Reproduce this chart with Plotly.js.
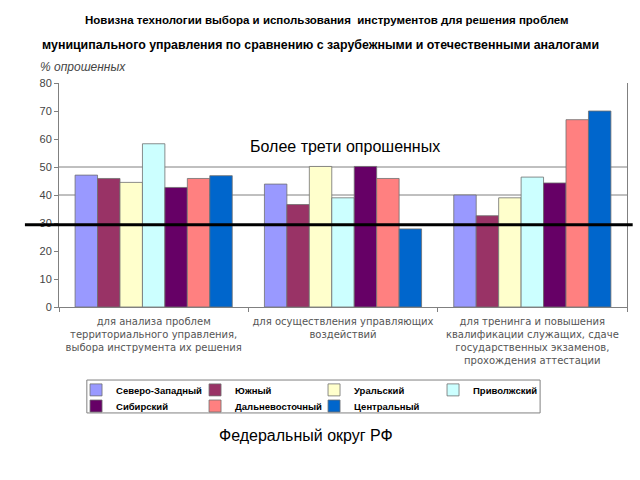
<!DOCTYPE html>
<html><head><meta charset="utf-8">
<script src="https://cdn.plot.ly/plotly-3.0.1.min.js"></script>
<style>body{margin:0;background:#fff}#c{width:640px;height:480px}</style>
</head><body><div id="c"></div>
<script>
const categories = [
  "для анализа проблем<br>территориального управления,<br>выбора инструмента их решения",
  "для осуществления управляющих<br>воздействий",
  "для тренинга и повышения<br>квалификации служащих, сдаче<br>государственных экзаменов,<br>прохождения аттестации"
];
const seriesNames = ["Северо-Западный","Южный","Уральский","Приволжский","Сибирский","Дальневосточный","Центральный"];
const seriesColors = ["#9999FF","#993366","#FFFFCC","#CCFFFF","#660066","#FF8080","#0066CC"];
const szValues = [47.1, 43.9, 40.0];
const yuzhValues = [45.9, 36.6, 32.6];
const uralValues = [44.5, 50.2, 39.0];
const privValues = [58.3, 39.0, 46.4];
const sibValues = [42.7, 50.2, 44.3];
const dvValues = [45.9, 45.9, 66.9];
const centrValues = [46.9, 27.9, 70.0];
const gridValues = [40, 50];
const thresholdValue = 29.4;
const yTicks = [0,10,20,30,40,50,60,70,80];

const allValues = [szValues, yuzhValues, uralValues, privValues, sibValues, dvValues, centrValues];
const traces = allValues.map((v,i)=>({
  type:'bar', x: categories, y: v, name: seriesNames[i],
  legend: i < 4 ? 'legend' : 'legend2',
  marker:{color: seriesColors[i], line:{color:'#707070', width:0.8}}
}));

const shapes = gridValues.map(g=>({type:'line', xref:'paper', yref:'y', x0:0, x1:1, y0:g, y1:g, line:{color:'#808080', width:1}, layer:'below'}));
shapes.push({type:'line', xref:'paper', yref:'y', x0:-0.06, x1:1.01, y0:thresholdValue, y1:thresholdValue, line:{color:'#000', width:3}});
// legend frame
shapes.push({type:'rect', xref:'paper', yref:'paper', x0:0.049, x1:0.847, y0:-0.326, y1:-0.473, line:{color:'#808080', width:1}, fillcolor:'rgba(0,0,0,0)'});

const legFont = {size:9.5, color:'#000', family:'Liberation Sans, Arial, sans-serif', weight:'bold'};
const legCommon = {orientation:'h', xanchor:'left', yanchor:'middle', bgcolor:'rgba(0,0,0,0)', borderwidth:0,
  entrywidth:74, entrywidthmode:'pixels', font:legFont, itemwidth:30, traceorder:'normal'};

const layout = {
  width:640, height:480,
  margin:{l:59, r:13, t:83, b:173},
  paper_bgcolor:'#fff', plot_bgcolor:'#fff',
  font:{family:'Liberation Sans, Arial, sans-serif', color:'#333'},
  barmode:'group', bargap:0.17, bargroupgap:0,
  showlegend:true,
  legend: Object.assign({}, legCommon, {x:0.03, y:-0.37}),
  legend2: Object.assign({}, legCommon, {x:0.03, y:-0.442}),
  xaxis:{type:'category', showline:true, linecolor:'#808080', ticks:'outside', tickson:'boundaries', ticklen:4, tickcolor:'#808080',
    tickangle:0, tickfont:{size:10, color:'#555', family:'DejaVu Sans, sans-serif'}, ticklabelstandoff:5, showgrid:false, fixedrange:true},
  yaxis:{range:[0,80], tickvals:yTicks, showline:true, mirror:true, linecolor:'#808080', ticks:'outside', ticklen:4, tickcolor:'#808080',
    tickfont:{size:11, color:'#444'}, showgrid:false, zeroline:false, fixedrange:true},
  shapes: shapes,
  annotations:[
    {xref:'paper', yref:'paper', x:0.5, y:1, xanchor:'center', yanchor:'middle', showarrow:false,
     text:'<b>Новизна технологии выбора и использования  инструментов для решения проблем</b>', font:{size:11.5, color:'#000'},
     xshift:-16, yshift:63},
    {xref:'paper', yref:'paper', x:0.5, y:1, xanchor:'center', yanchor:'middle', showarrow:false,
     text:'<b>муниципального управления по сравнению с зарубежными и отечественными аналогами</b>', font:{size:12.4, color:'#000'},
     xshift:-23, yshift:38},
    {xref:'paper', yref:'paper', x:0, y:1, xanchor:'left', yanchor:'middle', showarrow:false,
     text:'<i>% опрошенных</i>', font:{size:12, color:'#444'}, xshift:-21, yshift:16},
    {xref:'paper', yref:'paper', x:0.5, y:0, xanchor:'center', yanchor:'middle', showarrow:false,
     text:'Более трети опрошенных', font:{size:16, color:'#000'}, xshift:2, yshift:161},
    {xref:'paper', yref:'paper', x:0.5, y:0, xanchor:'center', yanchor:'middle', showarrow:false,
     text:'Федеральный округ РФ', font:{size:16, color:'#000'}, xshift:-37, yshift:-128}
  ]
};
Plotly.newPlot('c', traces, layout, {staticPlot:true, displayModeBar:false});
</script></body></html>
